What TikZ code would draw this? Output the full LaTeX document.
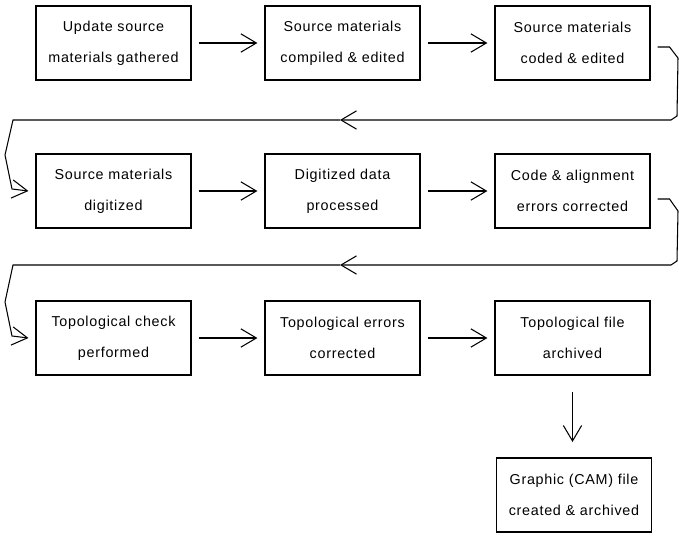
\documentclass[tikz,border=0pt]{standalone}
\usepackage{fontspec}
\setmainfont{Liberation Sans}[LetterSpace=5]
\usepackage{xcolor}
\usetikzlibrary{arrows.meta,calc,positioning}
\definecolor{ink}{HTML}{000000}
\tikzset{
  stepbox/.style={draw=ink,line width=0.75pt,minimum width=3.875cm,minimum height=1.85cm,
    align=center,inner sep=0pt,font=\fontsize{10.2}{22}\selectfont\color{ink}},
  flow/.style={draw=ink,line width=0.75pt,-{Straight Barb[length=11pt,width=13pt]}},
  gap/.style={shorten <=5pt,shorten >=5pt}
}
\begin{document}
\begin{tikzpicture}[x=0.025cm,y=-0.025cm]
        \useasboundingbox (0,0) rectangle (679,547);
        \def\rA{43}\def\rB{191}\def\rC{338}
        \node[stepbox] (gather)   at (113.5,\rA) {Update source\\materials gathered};
        \node[stepbox] (compile)  at (342.5,\rA) {Source materials\\compiled \& edited};
        \node[stepbox] (code)     at (572.5,\rA) {Source materials\\coded \& edited};
        \node[stepbox] (digitize) at (113.5,\rB) {Source materials\\digitized};
        \node[stepbox] (process)  at (342.5,\rB) {Digitized data\\processed};
        \node[stepbox] (correct)  at (572.5,\rB) {Code \& alignment\\errors corrected};
        \node[stepbox] (check)    at (113.5,\rC) {Topological check\\performed};
        \node[stepbox] (fix)      at (342.5,\rC) {Topological errors\\corrected};
        \node[stepbox] (archive)  at (572.5,\rC) {Topological file\\archived};
        \node[stepbox] (cam)      at (574,495)   {Graphic (CAM) file\\created \& archived};
        \foreach \a/\b in {gather/compile,compile/code,digitize/process,process/correct,check/fix,fix/archive}{
          \draw[flow,gap] (\a) -- (\b);}
        \draw[flow,shorten <=12pt,shorten >=11pt] (archive.south) -- (archive.south |- cam.north);
        \coordinate (back1) at (340,120);
        \coordinate (back2) at (340,265);
        \draw[flow] ($(code.east)+(7,4)$) -- ++(12,0) -- (678,58) -- (677,116) -- (671,120) -- (back1);
        \draw[flow] (back1) -- (13,120) -- (5,155) -- (12,189) -- ($(digitize.west)+(-7,0)$);
        \draw[flow] ($(correct.east)+(7,8)$) -- ++(12,0) -- (678,211) -- (677,261) -- (671,265) -- (back2);
        \draw[flow] (back2) -- (13,265) -- (5,302) -- (12,336) -- ($(check.west)+(-7,0)$);
      \end{tikzpicture}
\end{document}
